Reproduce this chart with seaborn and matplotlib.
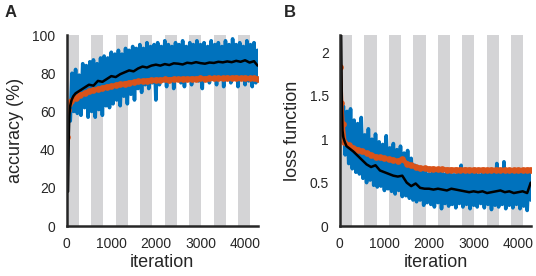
import numpy as np
import pandas as pd
import matplotlib
matplotlib.use("Agg")
import matplotlib.pyplot as plt
import seaborn as sns

# iteration grids
train_iter = list(range(0, 4320, 40))
smooth_iter = [30, 45, 60, 80, 110, 150, 200] + list(range(300, 4300, 100)) + [4280]
val_iter = [0, 30, 60, 100] + list(range(200, 4300, 100)) + [4280]

# alternating epochs (grey bands)
epoch_starts = [0, 549, 1098, 1647, 2196, 2745, 3294, 3843]
epoch_width = 274

# A: accuracy (%)
acc_train = [20, 62, 55, 80, 60, 82, 59, 79, 58, 85, 62, 84, 57, 86, 60, 87,
             57, 85, 61, 88, 58, 89, 63, 88, 62, 91, 64, 90, 66, 92, 63, 90,
             68, 93, 64, 92, 69, 94, 66, 93, 72, 95, 70, 93, 74, 96, 72, 94,
             75, 95, 66, 96, 74, 94, 76, 97, 73, 95, 76, 94, 72, 96, 77, 95,
             75, 97, 73, 94, 77, 96, 74, 95, 77, 97, 76, 95, 72, 96, 78, 94,
             75, 97, 77, 95, 74, 96, 78, 94, 73, 97, 77, 95, 75, 98, 78, 95,
             73, 96, 77, 94, 74, 97, 76, 95, 73, 96, 75, 92]
acc_smooth = [18, 45, 58, 63, 66, 68, 69.5, 71, 72.5, 74, 73.5, 76, 75.5, 77,
              78.5, 78, 79.5, 80.5, 81.5, 81, 82.5, 83.5, 83, 84, 84.5, 84,
              84.8, 84.3, 85.2, 85, 84.6, 85.5, 85.2, 85.8, 85.3, 85, 85.6,
              85.4, 86, 85.7, 86.2, 85.8, 86.5, 86, 86.8, 85.6, 86.3, 84]
acc_val = [46.5, 61, 64, 65.5, 67, 68.5, 69.5, 70.5, 71, 71.8, 72.3, 73, 73.2,
           73.8, 74.2, 74.6, 75, 75.3, 75.8, 76, 76.2, 76.4, 76.6, 76.5, 76.8,
           76.7, 77, 76.9, 77.1, 77, 77.2, 77.1, 77.3, 77.2, 77.4, 77.3, 77.5,
           77.4, 77.6, 77.5, 77.7, 77.4, 77.6, 77.3, 77.5, 76.8]

# B: loss
loss_train = [2.15, 1.05, 1.38, 0.82, 1.32, 0.72, 1.35, 0.66, 1.22, 0.62, 1.18,
              0.6, 1.25, 0.55, 1.05, 0.5, 1.12, 0.53, 1.0, 0.47, 1.06, 0.45,
              0.97, 0.46, 0.94, 0.41, 1.04, 0.43, 0.9, 0.4, 0.95, 0.37, 0.88,
              0.41, 0.92, 0.34, 0.84, 0.35, 0.87, 0.32, 0.78, 0.3, 0.7, 0.28,
              0.64, 0.3, 0.62, 0.24, 0.65, 0.27, 0.6, 0.25, 0.63, 0.22, 0.61,
              0.27, 0.66, 0.2, 0.6, 0.26, 0.62, 0.23, 0.64, 0.25, 0.59, 0.21,
              0.62, 0.26, 0.7, 0.22, 0.6, 0.25, 0.63, 0.2, 0.61, 0.24, 0.65,
              0.22, 0.59, 0.26, 0.62, 0.21, 0.64, 0.25, 0.6, 0.19, 0.63, 0.24,
              0.72, 0.22, 0.61, 0.25, 0.74, 0.2, 0.62, 0.24, 0.6, 0.21, 0.64,
              0.25, 0.61, 0.2, 0.63, 0.23, 0.6, 0.18, 0.62, 0.3]
loss_smooth = [2.2, 1.4, 1.1, 1.02, 0.97, 0.92, 0.9, 0.86, 0.81, 0.76, 0.71,
               0.68, 0.7, 0.64, 0.62, 0.6, 0.58, 0.57, 0.58, 0.5, 0.46, 0.49,
               0.44, 0.43, 0.43, 0.42, 0.43, 0.42, 0.41, 0.43, 0.42, 0.41, 0.4,
               0.39, 0.4, 0.39, 0.4, 0.38, 0.39, 0.4, 0.41, 0.39, 0.4, 0.38,
               0.39, 0.4, 0.38, 0.5]
loss_val = [1.83, 1.42, 1.17, 0.97, 0.93, 0.9, 0.88, 0.86, 0.84, 0.82, 0.8,
            0.79, 0.78, 0.77, 0.76, 0.75, 0.77, 0.72, 0.7, 0.68, 0.67, 0.665,
            0.66, 0.66, 0.655, 0.655, 0.65, 0.65, 0.65, 0.648, 0.65, 0.647,
            0.648, 0.646, 0.65, 0.645, 0.648, 0.645, 0.647, 0.645, 0.646, 0.644,
            0.646, 0.645, 0.648, 0.65]

sns.set_style("white")
plt.rcParams["font.family"] = ["Liberation Sans", "DejaVu Sans"]

blue = "#0072bd"
orange = "#d95319"
grey = "#d4d4d6"
axcol = "#262626"

fig = plt.figure(figsize=(5.36, 2.76), dpi=100)
axA = fig.add_axes([0.1244, 0.181, 0.357, 0.692])
axB = fig.add_axes([0.634, 0.181, 0.357, 0.692])


def draw(ax, train, smooth, val, ylim, yticks, ylabels, ylabel):
    for s in epoch_starts:
        ax.axvspan(s, s + epoch_width, color=grey, lw=0, zorder=0)
    sns.lineplot(x=train_iter, y=train, ax=ax, color=blue, lw=2.6, zorder=2)
    sns.lineplot(x=val_iter, y=val, ax=ax, color=orange, lw=3.3, marker="o",
                 markersize=4.8, markeredgewidth=0, zorder=3)
    sns.lineplot(x=smooth_iter, y=smooth, ax=ax, color="black", lw=1.8, zorder=4)
    ax.set_xlim(0, 4290)
    ax.set_ylim(*ylim)
    ax.set_xticks([0, 1000, 2000, 3000, 4000])
    ax.set_xticks([500, 1500, 2500, 3500], minor=True)
    ax.set_yticks(yticks)
    ax.set_yticklabels(ylabels)
    for side in ["top", "right"]:
        ax.spines[side].set_visible(False)
    for side in ["left", "bottom"]:
        ax.spines[side].set_color(axcol)
        ax.spines[side].set_linewidth(1.8)
        ax.spines[side].set_zorder(5)
    ax.tick_params(which="both", direction="in", length=3, width=1.2,
                   color=axcol, labelcolor=axcol, labelsize=10, pad=8)
    ax.set_xlabel("iteration", fontsize=13, color=axcol, labelpad=2)
    ax.set_ylabel(ylabel, fontsize=13, color=axcol, labelpad=6)


draw(axA, acc_train, acc_smooth, acc_val, (0, 100),
     [0, 20, 40, 60, 80, 100], ["0", "20", "40", "60", "80", "100"], "accuracy (%)")
draw(axB, loss_train, loss_smooth, loss_val, (0, 2.2),
     [0, 0.5, 1, 1.5, 2], ["0", "0.5", "1", "1.5", "2"], "loss function")

fig.text(0.009, 0.982, "A", fontsize=12, fontweight="bold", va="top")
fig.text(0.53, 0.982, "B", fontsize=12, fontweight="bold", va="top")

fig.savefig("out.png", dpi=100)
